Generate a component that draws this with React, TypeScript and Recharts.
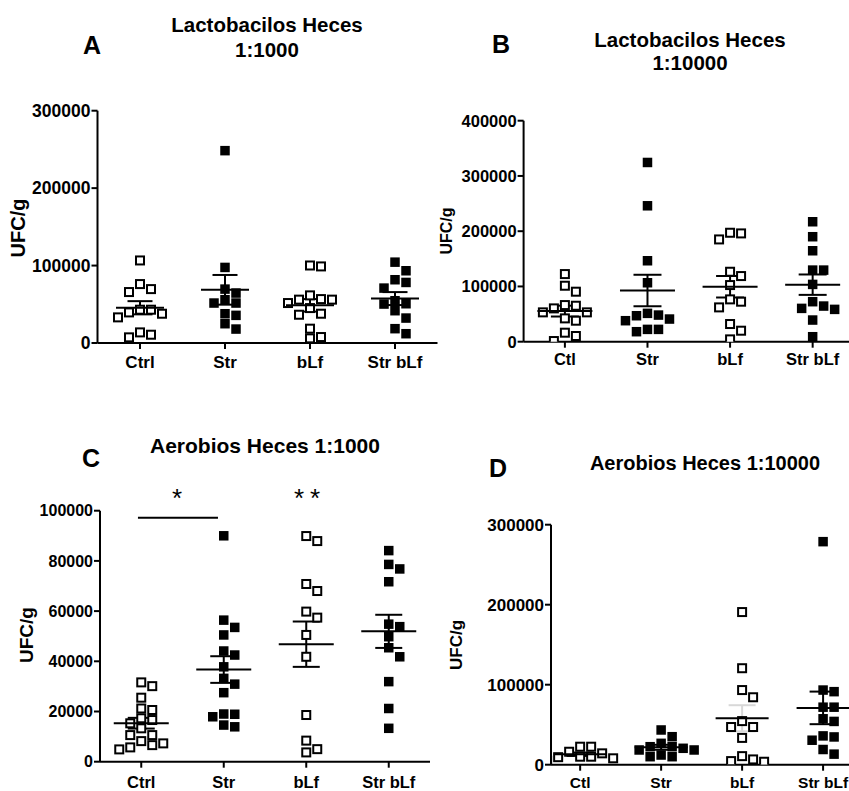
import React from 'react';
import { ScatterChart, Scatter, XAxis, YAxis, ErrorBar, ReferenceLine } from 'recharts';

const FONT = "'Liberation Sans', Arial, Helvetica, sans-serif";

// ---- categories ----
const catsA = ['Ctrl', 'Str', 'bLf', 'Str bLf'];
const catsB = ['Ctl', 'Str', 'bLf', 'Str bLf'];
const catsC = ['Ctrl', 'Str', 'bLf', 'Str bLf'];
const catsD = ['Ctl', 'Str', 'bLf', 'Str bLf'];

// ---- y ticks ----
const ticksA = [0, 100000, 200000, 300000];
const ticksB = [0, 100000, 200000, 300000, 400000];
const ticksC = [0, 20000, 40000, 60000, 80000, 100000];
const ticksD = [0, 100000, 200000, 300000];

// ---- A: Lactobacilos Heces 1:1000 ----
const aCtrl = [106600, 69600, 65800, 76100, 37800, 33100, 43000, 43000, 39500, 13700, 10700, 7300];
const aStr = [248400, 97600, 69600, 64500, 55900, 51600, 51600, 37800, 35700, 24900, 18000];
const aBlf = [100100, 98900, 61500, 56000, 56700, 56000, 51600, 45100, 37800, 36500, 18500, 7700, 6000];
const aStrBlf = [104400, 93300, 81700, 78200, 70900, 54600, 50300, 50700, 41700, 32200, 18500, 12000];

// ---- B: Lactobacilos Heces 1:10000 ----
const bCtl = [122400, 101300, 90500, 66300, 65100, 60300, 53100, 53100, 42200, 38000, 16300, 10300, 1200];
const bStr = [324400, 246000, 146500, 106700, 41000, 38000, 47000, 51300, 48200, 22300, 22300, 18100];
const bBlf = [197200, 185100, 196000, 126600, 118800, 102500, 76600, 72400, 62100, 32000, 19900, 4200];
const bStrBlf = [217100, 190000, 164600, 129600, 129600, 103700, 72400, 60300, 64500, 58500, 39200, 9000];

// ---- C: Aerobios Heces 1:1000 ----
const cCtrl = [31600, 30100, 25500, 20600, 21200, 17300, 16600, 15300, 13300, 10600, 10600, 8200, 7300, 6600, 5700, 4900];
const cStr = [90000, 56400, 53500, 50500, 44100, 42500, 37800, 33200, 30900, 27500, 19000, 18900, 17900, 14600, 13900];
const cBlf = [89900, 87900, 70800, 68000, 59800, 57400, 50500, 41800, 18600, 8400, 5000, 3700];
const cStrBlf = [84100, 76800, 78600, 71700, 54800, 53800, 49800, 45400, 41800, 31900, 21200, 13300];

// ---- D: Aerobios Heces 1:10000 ----
const dCtl = [22500, 22500, 16200, 14200, 10000, 10000, 9400, 8000, 5000];
const dStr = [43400, 35000, 26700, 22500, 22500, 20500, 18400, 18400, 12100, 10000, 10000];
const dBlf = [190800, 120600, 93300, 84300, 54500, 47100, 47100, 33500, 10700, 6600, 4500, 3700];
const dStrBlf = [278800, 91300, 93300, 71900, 71900, 54100, 57400, 36000, 30600, 34700, 19000, 13200];

// significance annotation (panel C)
const sigBracketC = { x1: 0.96, x2: 1.93, y: 97200 };

const groupFilled = [false, true, false, true];

function stats(vals: number[]) {
  const n = vals.length;
  const mean = vals.reduce((s, v) => s + v, 0) / n;
  const sd = Math.sqrt(vals.reduce((s, v) => s + (v - mean) * (v - mean), 0) / (n - 1));
  return { mean, sem: sd / Math.sqrt(n) };
}

// beeswarm layout computed from the values
function swarm(values: number[], center: number, pxPerVal: number, pxPerX: number) {
  const step = 11;
  const yThr = 9.5;
  const order = values.map((_, i) => i).sort((a, b) => values[b] - values[a]);
  const placed: { x: number; y: number }[] = [];
  const out: { x: number; y: number }[] = new Array(values.length);
  for (const i of order) {
    const y = values[i] * pxPerVal;
    let chosen = 0;
    for (let k = 0; k < 30; k++) {
      const cands = k === 0 ? [0] : [(k * step) / 2, (-k * step) / 2];
      let ok: number | null = null;
      for (const c of cands) {
        if (placed.every((p) => Math.abs(p.y - y) >= yThr || Math.abs(p.x - c) >= step)) {
          ok = c;
          break;
        }
      }
      if (ok !== null) {
        chosen = ok;
        break;
      }
    }
    placed.push({ x: chosen, y });
    out[i] = { x: center + chosen / pxPerX, y: values[i] };
  }
  return out;
}

const openSq = (p: any) => (
  <rect x={p.cx - 4} y={p.cy - 4} width={8} height={8} fill="#fff" stroke="#000" strokeWidth={2} />
);
const filledSq = (p: any) => <rect x={p.cx - 4.75} y={p.cy - 4.75} width={9.5} height={9.5} fill="#000" />;

type Cfg = {
  box: { l: number; t: number; w: number; h: number };
  plot: { l: number; r: number; t: number; b: number };
  xDomain: [number, number];
  yMax: number;
  yTicks: number[];
  cats: string[];
  groups: number[][];
  yFont: number;
  xFont: number;
  xTickMargin: number;
  meanHalf: number;
  capHalf: number;
  faint?: boolean[];
  bracket?: { x1: number; x2: number; y: number };
};

function Panel({ cfg }: { cfg: Cfg }) {
  const { box, plot, xDomain, yMax, yTicks, cats, groups, yFont, xFont, xTickMargin, meanHalf, capHalf, faint, bracket } = cfg;
  const yW = 80;
  const xH = 30;
  const margin = {
    left: plot.l - box.l - yW,
    top: plot.t - box.t,
    right: box.l + box.w - plot.r,
    bottom: box.t + box.h - plot.b - xH,
  };
  const pxPerVal = (plot.b - plot.t) / yMax;
  const pxPerX = (plot.r - plot.l) / (xDomain[1] - xDomain[0]);
  const meanShape = (p: any) => (
    <line x1={p.cx - meanHalf} x2={p.cx + meanHalf} y1={p.cy} y2={p.cy} stroke="#000" strokeWidth={2} />
  );
  const tickStyle = { fill: '#000', fontWeight: 700, fontFamily: FONT };
  return (
    <div style={{ position: 'absolute', left: box.l, top: box.t }}>
      <ScatterChart width={box.w} height={box.h} margin={margin}>
        <XAxis
          type="number"
          dataKey="x"
          domain={xDomain}
          ticks={[1, 2, 3, 4]}
          interval={0}
          allowDataOverflow
          tickFormatter={(v: number) => cats[v - 1]}
          axisLine={{ stroke: '#000', strokeWidth: 2 }}
          tickLine={{ stroke: '#000', strokeWidth: 2 }}
          tickSize={6}
          tickMargin={xTickMargin}
          height={xH}
          tick={{ ...tickStyle, fontSize: xFont }}
        />
        <YAxis
          type="number"
          dataKey="y"
          domain={[0, yMax]}
          ticks={yTicks}
          interval={0}
          allowDataOverflow
          width={yW}
          axisLine={{ stroke: '#000', strokeWidth: 2 }}
          tickLine={{ stroke: '#000', strokeWidth: 2 }}
          tickSize={6}
          tickMargin={1}
          tick={{ ...tickStyle, fontSize: yFont }}
        />
        {groups.map((vals, gi) => (
          <Scatter
            key={'g' + gi}
            data={swarm(vals, gi + 1, pxPerVal, pxPerX)}
            shape={groupFilled[gi] ? filledSq : openSq}
            isAnimationActive={false}
          />
        ))}
        {groups.map((vals, gi) => {
          const s = stats(vals);
          return (
            <Scatter
              key={'m' + gi}
              data={[{ x: gi + 1, y: s.mean, sem: s.sem }]}
              shape={meanShape}
              isAnimationActive={false}
            >
              <ErrorBar
                dataKey="sem"
                direction="y"
                width={capHalf}
                stroke={faint && faint[gi] ? '#d8d8d8' : '#000'}
                strokeWidth={2}
                isAnimationActive={false}
              />
            </Scatter>
          );
        })}
        {bracket && (
          <ReferenceLine
            segment={[
              { x: bracket.x1, y: bracket.y },
              { x: bracket.x2, y: bracket.y },
            ]}
            stroke="#000"
            strokeWidth={2}
          />
        )}
      </ScatterChart>
    </div>
  );
}

const panels: Cfg[] = [
  {
    box: { l: 0, t: 80, w: 440, h: 300 },
    plot: { l: 97.5, r: 437.5, t: 110.7, b: 343 },
    xDomain: [0.5, 4.5],
    yMax: 300000,
    yTicks: ticksA,
    cats: catsA,
    groups: [aCtrl, aStr, aBlf, aStrBlf],
    yFont: 17.5,
    xFont: 17,
    xTickMargin: 7,
    meanHalf: 24,
    capHalf: 12.5,
  },
  {
    box: { l: 440, t: 90, w: 409, h: 290 },
    plot: { l: 523.6, r: 849, t: 120.7, b: 341.7 },
    xDomain: [0.5, 4.44],
    yMax: 400000,
    yTicks: ticksB,
    cats: catsB,
    groups: [bCtl, bStr, bBlf, bStrBlf],
    yFont: 16.5,
    xFont: 16.5,
    xTickMargin: 6,
    meanHalf: 27.5,
    capHalf: 14,
  },
  {
    box: { l: 0, t: 480, w: 440, h: 311 },
    plot: { l: 100, r: 430, t: 510.7, b: 761.7 },
    xDomain: [0.5, 4.5],
    yMax: 100000,
    yTicks: ticksC,
    cats: catsC,
    groups: [cCtrl, cStr, cBlf, cStrBlf],
    yFont: 16,
    xFont: 16.5,
    xTickMargin: 9,
    meanHalf: 27.5,
    capHalf: 13.5,
    bracket: sigBracketC,
  },
  {
    box: { l: 440, t: 500, w: 409, h: 291 },
    plot: { l: 551, r: 849, t: 524.7, b: 764.7 },
    xDomain: [0.64, 4.32],
    yMax: 300000,
    yTicks: ticksD,
    cats: catsD,
    groups: [dCtl, dStr, dBlf, dStrBlf],
    yFont: 17,
    xFont: 15.5,
    xTickMargin: 6,
    meanHalf: 26.5,
    capHalf: 13.5,
    faint: [false, false, true, false],
  },
];

const titleStyle = { fontFamily: FONT, fontWeight: 700, fill: '#000' } as const;

export default function App() {
  return (
    <div style={{ position: 'absolute', left: 0, top: 0, width: 849, height: 791, background: '#fff', overflow: 'hidden' }}>
      {panels.map((p, i) => (
        <Panel key={i} cfg={p} />
      ))}
      <svg width={849} height={791} style={{ position: 'absolute', left: 0, top: 0, pointerEvents: 'none' }}>
        {/* panel letters */}
        <text x={92} y={54} textAnchor="middle" fontSize={25} {...titleStyle}>A</text>
        <text x={501} y={53} textAnchor="middle" fontSize={25} {...titleStyle}>B</text>
        <text x={91} y={467} textAnchor="middle" fontSize={25} {...titleStyle}>C</text>
        <text x={498} y={477} textAnchor="middle" fontSize={25} {...titleStyle}>D</text>
        {/* titles */}
        <text x={267} y={32} textAnchor="middle" fontSize={20.5} {...titleStyle}>Lactobacilos Heces</text>
        <text x={267} y={57} textAnchor="middle" fontSize={20.5} {...titleStyle}>1:1000</text>
        <text x={690} y={46.5} textAnchor="middle" fontSize={20.5} {...titleStyle}>Lactobacilos Heces</text>
        <text x={690} y={70} textAnchor="middle" fontSize={20.5} {...titleStyle}>1:10000</text>
        <text x={265} y={452.5} textAnchor="middle" fontSize={21} {...titleStyle}>Aerobios Heces 1:1000</text>
        <text x={705} y={469.5} textAnchor="middle" fontSize={20} {...titleStyle}>Aerobios Heces 1:10000</text>
        {/* y axis labels */}
        <text transform="translate(18,228) rotate(-90)" textAnchor="middle" dominantBaseline="central" fontSize={20} {...titleStyle}>UFC/g</text>
        <text transform="translate(446,231) rotate(-90)" textAnchor="middle" dominantBaseline="central" fontSize={16} {...titleStyle}>UFC/g</text>
        <text transform="translate(26,635) rotate(-90)" textAnchor="middle" dominantBaseline="central" fontSize={19} {...titleStyle}>UFC/g</text>
        <text transform="translate(456,645) rotate(-90)" textAnchor="middle" dominantBaseline="central" fontSize={17} {...titleStyle}>UFC/g</text>
        {/* significance marks */}
        <text x={177} y={507} textAnchor="middle" fontSize={26} fontFamily={FONT} fill="#000">*</text>
        <text x={310} y={507} textAnchor="middle" fontSize={26} fontFamily={FONT} letterSpacing={6} fill="#000">**</text>
      </svg>
    </div>
  );
}
